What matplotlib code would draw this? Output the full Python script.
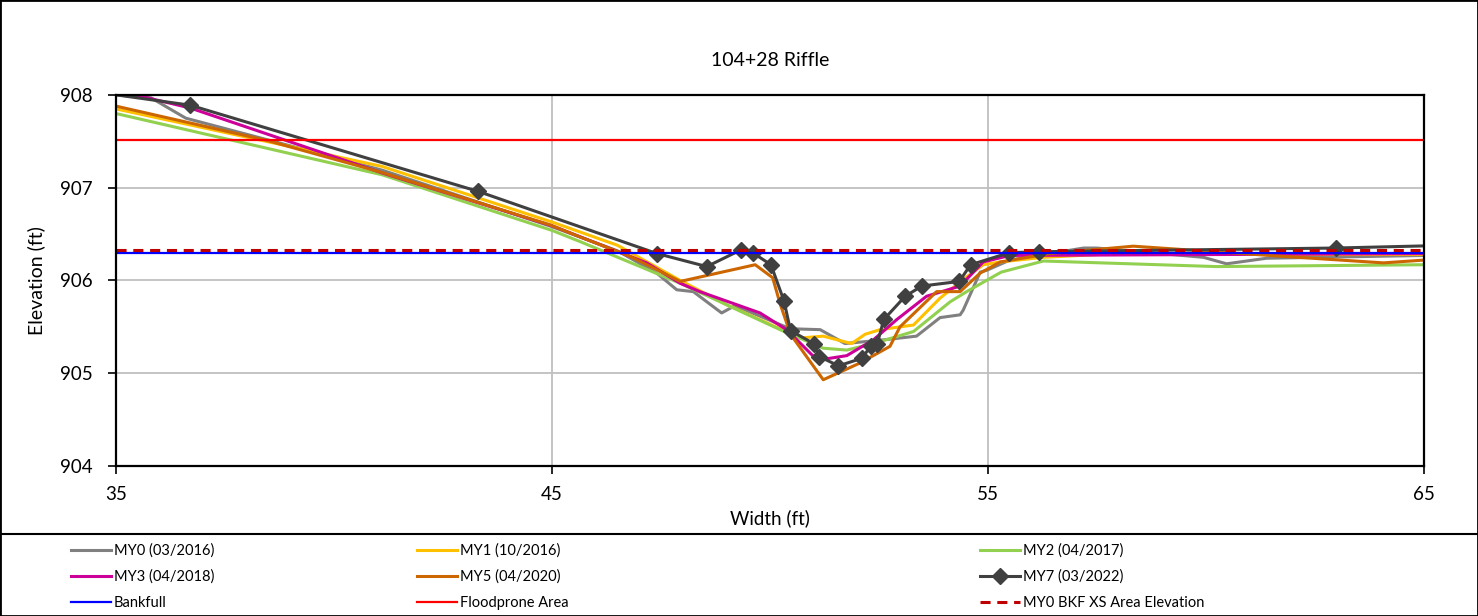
import matplotlib
matplotlib.use('Agg')

import matplotlib.pyplot as plt
from matplotlib.lines import Line2D
from matplotlib.patches import Rectangle

plt.rcParams['font.family'] = ['Lato', 'DejaVu Sans']

# survey data (width ft, elevation ft)
my0_x = [35, 35.8, 36.6, 41.1, 45.0, 46.5, 47.4, 47.86, 48.24, 48.89, 49.16, 49.39, 50.46, 51.15, 51.72,
         52.60, 53.36, 53.90, 54.36, 54.43, 54.82, 54.97, 55.5, 57.19, 57.49, 59.94, 60.47, 61.39, 65]
my0_y = [908.0, 907.97, 907.75, 907.19, 906.58, 906.32, 906.08, 905.90, 905.88, 905.65, 905.72, 905.69, 905.48,
         905.47, 905.32, 905.36, 905.40, 905.60, 905.63, 905.68, 906.09, 906.11, 906.22, 906.35, 906.35, 906.25,
         906.18, 906.24, 906.27]

my1_x = [35, 41.1, 45.0, 46.5, 47.94, 49.0, 50.46, 50.69, 51.22, 51.87, 52.18, 52.52, 53.29, 53.90, 54.51,
         54.89, 55.28, 56.27, 57.95, 61.77, 65]
my1_y = [907.85, 907.23, 906.63, 906.38, 906.0, 905.74, 905.43, 905.38, 905.40, 905.32, 905.42, 905.47, 905.52,
         905.81, 906.04, 906.17, 906.20, 906.25, 906.29, 906.28, 906.28]

my2_x = [35, 41.1, 45.0, 45.64, 47.94, 50.23, 51.22, 51.76, 52.37, 53.29, 54.13, 54.51, 55.3, 56.27, 60.24, 65]
my2_y = [907.80, 907.14, 906.54, 906.42, 905.97, 905.47, 905.27, 905.25, 905.32, 905.45, 905.77, 905.88,
         906.09, 906.21, 906.15, 906.17]

my3_x = [35.0, 36.7, 41.1, 45.0, 47.17, 47.94, 48.39, 49.77, 50.38, 51.0, 51.22, 51.76, 52.37, 52.91, 53.59,
         54.36, 54.89, 55.5, 65]
my3_y = [908.05, 907.86, 907.16, 906.59, 906.19, 905.97, 905.88, 905.65, 905.47, 905.18, 905.15, 905.19,
         905.36, 905.58, 905.83, 905.94, 906.20, 906.27, 906.29]

my5_x = [35, 38.46, 41.06, 44.95, 45.64, 46.79, 47.94, 49.66, 50.06, 50.23, 50.47, 51.22, 52.06, 52.75, 52.98,
         53.82, 54.36, 54.82, 55.28, 56.42, 58.33, 61.77, 64.07, 65]
my5_y = [907.88, 907.51, 907.17, 906.60, 906.47, 906.26, 905.99, 906.17, 906.03, 905.75, 905.42, 904.93,
         905.11, 905.29, 905.50, 905.88, 905.88, 906.08, 906.20, 906.29, 906.37, 906.26, 906.19, 906.22]

my7_x = [33.5, 36.70, 43.31, 47.41, 48.55, 49.33, 49.60, 50.02, 50.32, 50.47, 51.0, 51.13, 51.57, 52.10, 52.31,
         52.46, 52.61, 53.10, 53.48, 54.34, 54.60, 55.49, 56.18, 62.98, 66.5]
my7_y = [908.1, 907.89, 906.96, 906.29, 906.15, 906.33, 906.30, 906.17, 905.78, 905.46, 905.32, 905.18, 905.08,
         905.16, 905.29, 905.32, 905.58, 905.83, 905.94, 905.99, 906.17, 906.30, 906.31, 906.35, 906.39]

bankfull = 906.30
floodprone = 907.51
bkf_xs_area = 906.33

x_ticks = [35, 45, 55, 65]
y_ticks = [904, 905, 906, 907, 908]

fig = plt.figure(figsize=(14.78, 6.16), dpi=100)
ax = fig.add_axes([0.0785, 0.2435, 0.885, 0.6023])

ax.grid(True, color='#BFBFBF', linewidth=1.3, zorder=0)
ax.set_axisbelow(True)

lw = 2.2
l0, = ax.plot(my0_x, my0_y, color='#808080', lw=lw, label='MY0 (03/2016)')
l1, = ax.plot(my1_x, my1_y, color='#FFC000', lw=lw, label='MY1 (10/2016)')
l2, = ax.plot(my2_x, my2_y, color='#92D050', lw=lw, label='MY2 (04/2017)')
l3, = ax.plot(my3_x, my3_y, color='#CC0099', lw=lw, label='MY3 (04/2018)')
l5, = ax.plot(my5_x, my5_y, color='#CC6600', lw=lw, label='MY5 (04/2020)')
l7, = ax.plot(my7_x, my7_y, color='#404040', lw=lw, marker='D', markersize=8, label='MY7 (03/2022)')
lb = ax.axhline(bankfull, color='#0000FF', lw=1.6, label='Bankfull')
lf = ax.axhline(floodprone, color='#FF0000', lw=1.6, label='Floodprone Area')
ld = ax.axhline(bkf_xs_area, color='#C00000', lw=2.2, ls=(0, (3.3, 2.2)), label='MY0 BKF XS Area Elevation')

ax.set_xlim(35, 65)
ax.set_ylim(904, 908)
ax.set_xticks(x_ticks)
ax.set_yticks(y_ticks)
ax.tick_params(direction='out', length=5.5, width=1.2, labelsize=13.5)
ax.tick_params(axis='y', pad=11)
ax.tick_params(axis='x', pad=9)
for s in ax.spines.values():
    s.set_linewidth(1.6)
    s.set_color('black')

ax.set_title('104+28 Riffle', fontsize=14, pad=21)
ax.set_xlabel('Width (ft)', fontsize=13.5)
ax.set_ylabel('Elevation (ft)', fontsize=14)
ax.xaxis.set_label_coords(0.5, -0.116)
ax.yaxis.set_label_coords(-0.0543, 0.5)

cols = [([l0, l3, lb], 0.048), ([l1, l5, lf], 0.282), ([l2, l7, ld], 0.663)]
for handles, xpos in cols:
    fig.legend(handles=handles, loc='upper left', bbox_to_anchor=(xpos, 0.1177), frameon=False,
               fontsize=10.5, handlelength=2.75, handletextpad=0.2, labelspacing=0.82,
               borderaxespad=0, borderpad=0)

fig.add_artist(Rectangle((0, 0), 1, 1, transform=fig.transFigure, fill=False, ec='black', lw=2))
fig.add_artist(Line2D([0, 1], [0.1331, 0.1331], transform=fig.transFigure, color='black', lw=1.5))

plt.savefig('out.png', dpi=100)
plt.clf()
